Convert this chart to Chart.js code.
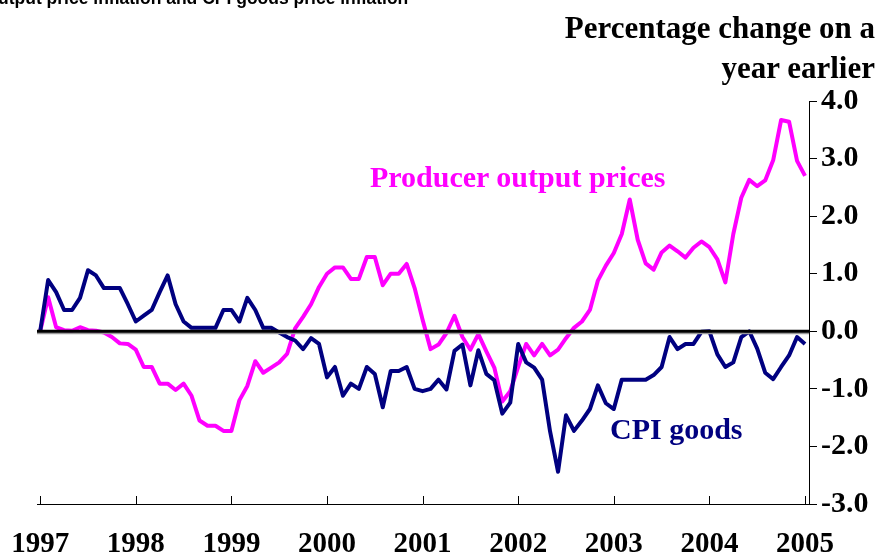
<!DOCTYPE html>
<html>
<head>
<meta charset="utf-8">
<script src="https://cdn.jsdelivr.net/npm/chart.js@4.4.1/dist/chart.umd.min.js"></script>
<style>
    body { margin: 0; background: #fff; }
    #wrap { position: relative; width: 880px; height: 558px; overflow: hidden; }
    #wrap canvas { position: absolute; left: 0; top: 0; }
    .lbl { position: absolute; white-space: nowrap; font-family: "Liberation Serif", "Times New Roman", serif; font-weight: bold; }
    #heading { position: absolute; white-space: nowrap; left: -2px; top: -12px; font: bold 17.5px "Liberation Sans", Arial, sans-serif; line-height: 20px; color: #000; }
    #unit { right: 5px; top: 8px; font-size: 31px; line-height: 40px; text-align: right; color: #000; }
    #ppi { left: 370px; top: 160px; font-size: 30px; color: #ff00ff; }
    #cpi { left: 610px; top: 412px; font-size: 30px; color: #000080; }
</style>
</head>
<body>
<div id="wrap">
    <canvas id="chart"></canvas>
    <div id="heading">utput price inflation and CPI goods price inflation</div>
    <div class="lbl" id="unit">Percentage change on a<br>year earlier</div>
    <div class="lbl" id="ppi">Producer output prices</div>
    <div class="lbl" id="cpi">CPI goods</div>
</div>
<script>
// Monthly data, January 1997 to January 2005 (percentage change on a year earlier)
const yearLabels = ['1997', '1998', '1999', '2000', '2001', '2002', '2003', '2004', '2005'];

const producerPrices = [
    0, 0.59, 0.07, 0.02, 0.01, 0.07, 0.02, 0.01, -0.02, -0.10, -0.21, -0.22,
    -0.32, -0.62, -0.62, -0.91, -0.91, -1.02, -0.91, -1.12, -1.55, -1.64, -1.64, -1.73,
    -1.73, -1.20, -0.95, -0.52, -0.72, -0.63, -0.54, -0.39, 0.05, 0.25, 0.47, 0.77,
    1.00, 1.11, 1.11, 0.91, 0.91, 1.29, 1.29, 0.80, 1.00, 1.00, 1.17, 0.75,
    0.20, -0.31, -0.23, -0.03, 0.27, -0.10, -0.32, -0.05, -0.35, -0.63, -1.22, -1.04,
    -0.62, -0.22, -0.42, -0.22, -0.42, -0.32, -0.12, 0.06, 0.17, 0.37, 0.88, 1.14,
    1.36, 1.69, 2.29, 1.59, 1.18, 1.07, 1.37, 1.49, 1.39, 1.28, 1.45, 1.56,
    1.46, 1.25, 0.85, 1.69, 2.32, 2.63, 2.52, 2.62, 2.97, 3.67, 3.64, 2.96,
    2.70
];

const cpiGoods = [
    0, 0.89, 0.68, 0.37, 0.37, 0.58, 1.06, 0.97, 0.75, 0.75, 0.75, 0.47,
    0.17, 0.27, 0.37, 0.68, 0.97, 0.47, 0.17, 0.06, 0.06, 0.06, 0.06, 0.37,
    0.37, 0.17, 0.58, 0.37, 0.06, 0.06, -0.02, -0.10, -0.16, -0.31, -0.12, -0.22,
    -0.80, -0.62, -1.12, -0.91, -1.00, -0.62, -0.74, -1.32, -0.69, -0.69, -0.62, -1.00,
    -1.04, -1.00, -0.84, -1.01, -0.34, -0.23, -0.94, -0.33, -0.74, -0.85, -1.43, -1.24,
    -0.22, -0.54, -0.63, -0.84, -1.74, -2.44, -1.46, -1.73, -1.55, -1.35, -0.94, -1.25,
    -1.35, -0.84, -0.84, -0.84, -0.84, -0.76, -0.62, -0.10, -0.31, -0.22, -0.22, -0.01,
    0, -0.40, -0.62, -0.54, -0.10, 0, -0.30, -0.72, -0.83, -0.62, -0.42, -0.10,
    -0.22
];

const yMin = -3;
const yMax = 4;

const serif = '"Liberation Serif", "Times New Roman", serif';

// Turn a monthly series into points (x = months since Jan 1997)
function toPoints(values) {
    return values.map((v, i) => ({ x: i, y: v }));
}

// Zero line over the series, and short year marks pointing up from the x axis
const axisMarks = {
    id: 'axisMarks',
    afterDatasetsDraw(chart) {
        const { ctx, chartArea, scales } = chart;
        const y0 = scales.y.getPixelForValue(0);
        ctx.save();
        ctx.strokeStyle = '#9a9a9a';
        ctx.lineWidth = 2;
        ctx.beginPath();
        ctx.moveTo(chartArea.left, y0 + 2);
        ctx.lineTo(chartArea.right, y0 + 2);
        ctx.stroke();
        ctx.strokeStyle = '#000';
        ctx.lineWidth = 3;
        ctx.beginPath();
        ctx.moveTo(chartArea.left, y0);
        ctx.lineTo(chartArea.right, y0);
        ctx.stroke();
        ctx.lineWidth = 1;
        ctx.beginPath();
        scales.x.ticks.forEach(t => {
            const px = Math.round(scales.x.getPixelForValue(t.value)) + 0.5;
            ctx.moveTo(px, chartArea.bottom);
            ctx.lineTo(px, chartArea.bottom - 8);
        });
        ctx.stroke();
        ctx.restore();
    }
};

new Chart(document.getElementById('chart'), {
    type: 'line',
    data: {
        datasets: [
            {
                label: 'CPI goods',
                data: toPoints(cpiGoods),
                borderColor: '#000080',
                borderWidth: 4,
                pointRadius: 0,
                tension: 0,
                borderJoinStyle: 'round'
            },
            {
                label: 'Producer output prices',
                data: toPoints(producerPrices),
                borderColor: '#ff00ff',
                borderWidth: 4,
                pointRadius: 0,
                tension: 0,
                borderJoinStyle: 'round'
            }
        ]
    },
    options: {
        responsive: true,
        maintainAspectRatio: false,
        animation: false,
        layout: { padding: { left: 37, top: 101, right: 0, bottom: 0 } },
        plugins: {
            legend: { display: false },
            tooltip: { enabled: false }
        },
        scales: {
            x: {
                type: 'linear',
                min: -0.4,
                max: 96.5,
                afterBuildTicks: scale => {
                    scale.ticks = yearLabels.map((_, k) => ({ value: k * 12 }));
                },
                ticks: {
                    autoSkip: false,
                    maxRotation: 0,
                    padding: 15,
                    color: '#000',
                    font: { family: serif, weight: 'bold', size: 29 },
                    callback: (value, index) => yearLabels[index]
                },
                grid: { display: false },
                border: { display: true, color: '#000', width: 1 },
                afterFit: scale => {
                    scale.height = 54;
                    scale.paddingLeft = 0;
                    scale.paddingRight = 0;
                }
            },
            y: {
                position: 'right',
                min: yMin,
                max: yMax,
                ticks: {
                    stepSize: 1,
                    padding: 4,
                    color: '#000',
                    font: { family: serif, weight: 'bold', size: 30 },
                    callback: value => value.toFixed(1)
                },
                grid: { drawOnChartArea: false, tickLength: 8, color: '#000' },
                border: { display: true, color: '#000', width: 1 },
                afterFit: scale => {
                    scale.width = 71;
                    scale.paddingTop = 0;
                    scale.paddingBottom = 0;
                }
            }
        }
    },
    plugins: [axisMarks]
});
</script>
</body>
</html>
